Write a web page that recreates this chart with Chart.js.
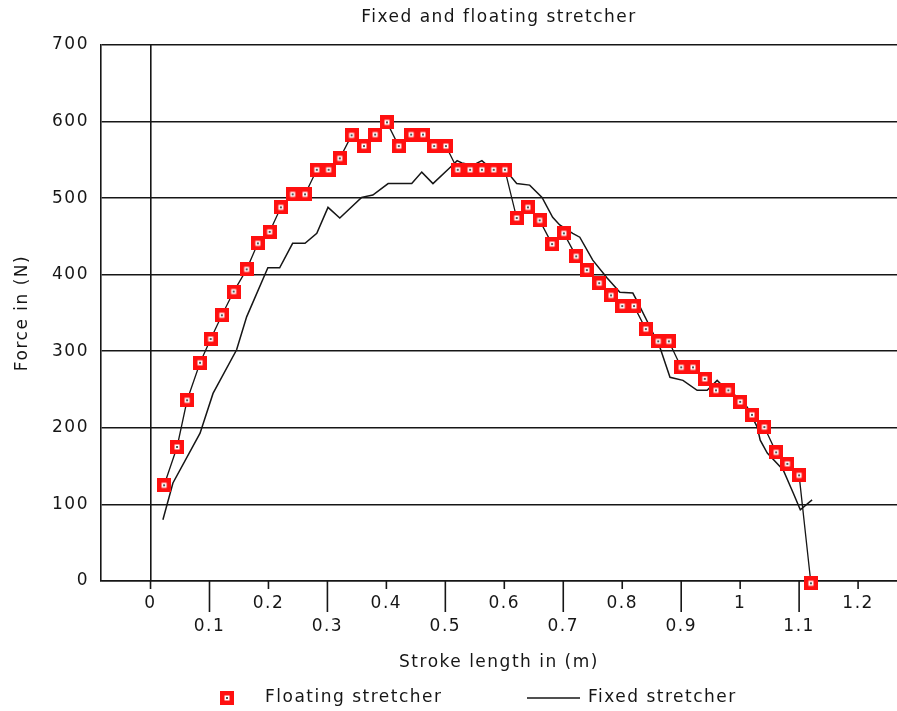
<!DOCTYPE html>
<html>
<head>
<meta charset="utf-8">
<title>Fixed and floating stretcher</title>
<script src="https://cdn.jsdelivr.net/npm/chart.js@4.4.1/dist/chart.umd.min.js"></script>
<style>
  html, body { margin: 0; padding: 0; background: #fff; }
  canvas { display: block; }
</style>
</head>
<body>
<canvas id="chart-stretcher" width="897" height="711"></canvas>
<script>
// stroke length (m) / force (N), floating stretcher
const floatingX = [0.023, 0.045, 0.062, 0.084, 0.102, 0.121, 0.141, 0.163, 0.182, 0.202,
  0.221, 0.241, 0.262, 0.282, 0.302, 0.321, 0.341, 0.362, 0.381, 0.401,
  0.421, 0.442, 0.462, 0.481, 0.501, 0.521, 0.542, 0.562, 0.582, 0.601,
  0.621, 0.640, 0.660, 0.681, 0.701, 0.722, 0.740, 0.761, 0.781, 0.800,
  0.820, 0.840, 0.861, 0.879, 0.900, 0.920, 0.940, 0.959, 0.980, 1.000,
  1.020, 1.041, 1.061, 1.080, 1.100, 1.120];
const floatingY = [125, 175, 236, 285, 316, 347, 378, 407, 441, 456,
  488, 505, 505, 537, 537, 552, 582, 568, 583, 599,
  568, 583, 583, 568, 568, 537, 537, 537, 537, 537,
  474, 488, 471, 440, 454, 424, 406, 389, 373, 359,
  359, 329, 313, 313, 279, 279, 264, 249, 249, 234,
  217, 201, 168, 153, 138, -3];

// fixed stretcher trace
const fixedX = [0.021, 0.038, 0.084, 0.106, 0.146, 0.163, 0.199, 0.219, 0.241, 0.262,
  0.282, 0.301, 0.321, 0.358, 0.377, 0.403, 0.443, 0.460, 0.479, 0.508,
  0.520, 0.528, 0.547, 0.562, 0.571, 0.605, 0.621, 0.643, 0.664, 0.682,
  0.694, 0.716, 0.728, 0.750, 0.774, 0.796, 0.818, 0.827, 0.847, 0.864,
  0.881, 0.903, 0.927, 0.944, 0.961, 0.969, 0.988, 1.012, 1.029, 1.034,
  1.046, 1.073, 1.090, 1.102, 1.122];
const fixedY = [80, 128, 193, 245, 302, 345, 409, 409, 441, 441,
  454, 488, 474, 501, 504, 519, 519, 534, 519, 540,
  549, 546, 543, 549, 543, 534, 519, 517, 501, 475,
  465, 454, 449, 419, 396, 377, 376, 363, 332, 305,
  266, 262, 249, 249, 262, 256, 245, 227, 201, 184,
  167, 145, 115, 93, 106];

const xTickValues = [0, 0.1, 0.2, 0.3, 0.4, 0.5, 0.6, 0.7, 0.8, 0.9, 1, 1.1, 1.2];
const xTickLabels = ['0', '0.1', '0.2', '0.3', '0.4', '0.5', '0.6', '0.7', '0.8', '0.9', '1', '1.1', '1.2'];

const ink = '#161616';

// red square marker with a white centre and a dot
function makeMarker() {
  const c = document.createElement('canvas');
  c.width = 14;
  c.height = 14;
  const g = c.getContext('2d');
  g.fillStyle = '#ff1010';
  g.fillRect(0, 0, 14, 14);
  g.fillStyle = '#ffffff';
  g.fillRect(4.5, 4.5, 5, 5);
  g.fillStyle = '#555555';
  g.fillRect(6, 6, 2, 2);
  return c;
}
const marker = makeMarker();

const spacedText = {
  id: 'spacedText',
  beforeDraw(chart) {
    chart.ctx.letterSpacing = '1.5px';
  }
};

// alternating short / long ticks under the x axis
const tickMarks = {
  id: 'tickMarks',
  afterDraw(chart) {
    const scale = chart.scales.x;
    const ctx = chart.ctx;
    ctx.save();
    ctx.strokeStyle = ink;
    ctx.lineWidth = 1.6;
    scale.ticks.forEach((t, i) => {
      const px = scale.getPixelForValue(t.value);
      const len = i % 2 ? 31 : 8;
      ctx.beginPath();
      ctx.moveTo(px, scale.top);
      ctx.lineTo(px, scale.top + len);
      ctx.stroke();
    });
    ctx.restore();
  }
};

const legendRow = {
  id: 'legendRow',
  afterDraw(chart) {
    const ctx = chart.ctx;
    const y = chart.height - 13;
    const [floating, fixed] = chart.data.datasets;
    ctx.save();
    ctx.letterSpacing = '1.5px';
    ctx.font = '17px "DejaVu Sans"';
    ctx.fillStyle = ink;
    ctx.textBaseline = 'middle';
    ctx.drawImage(floating.pointStyle, 227 - 7, y - 7);
    ctx.fillText(floating.label, 265, y);
    ctx.strokeStyle = ink;
    ctx.lineWidth = fixed.borderWidth;
    ctx.beginPath();
    ctx.moveTo(527, y);
    ctx.lineTo(580, y);
    ctx.stroke();
    ctx.fillText(fixed.label, 588, y);
    ctx.restore();
  }
};

Chart.defaults.font.family = '"DejaVu Sans", sans-serif';
Chart.defaults.font.size = 17;
Chart.defaults.color = ink;

const ctx = document.getElementById('chart-stretcher').getContext('2d');
const chart = new Chart(ctx, {
  type: 'line',
  data: {
    datasets: [
      {
        label: 'Floating stretcher',
        data: floatingX.map((x, i) => ({ x: x, y: floatingY[i] })),
        borderColor: ink,
        borderWidth: 1.3,
        pointStyle: marker,
        pointRadius: 6,
        clip: false
      },
      {
        label: 'Fixed stretcher',
        data: fixedX.map((x, i) => ({ x: x, y: fixedY[i] })),
        borderColor: ink,
        borderWidth: 1.5,
        pointRadius: 0
      }
    ]
  },
  options: {
    responsive: false,
    animation: false,
    layout: {
      autoPadding: false,
      padding: { left: 0, right: 0, top: 0, bottom: 34 }
    },
    scales: {
      x: {
        type: 'linear',
        min: -0.084,
        max: 1.266,
        afterBuildTicks: (scale) => {
          scale.ticks = xTickValues.map(v => ({ value: v }));
        },
        afterFit: (scale) => {
          scale.height = 96;
          scale.paddingLeft = 0;
          scale.paddingRight = 0;
        },
        grid: {
          color: (c) => (c.tick && c.tick.value === 0 ? ink : 'rgba(0,0,0,0)'),
          lineWidth: 1.6,
          drawTicks: false
        },
        border: { display: true, color: ink, width: 1.6 },
        ticks: {
          padding: 11,
          autoSkip: false,
          maxRotation: 0,
          font: { size: 17, lineHeight: 1.35 },
          callback: (value, index) => (index % 2 === 0 ? [xTickLabels[index], ''] : ['', xTickLabels[index]])
        },
        title: {
          display: true,
          text: 'Stroke length in (m)',
          padding: { top: 0, bottom: 4 },
          font: { size: 17 }
        }
      },
      y: {
        min: 0,
        max: 700,
        afterFit: (scale) => {
          scale.width = 101;
        },
        grid: { color: ink, lineWidth: 1.6, drawTicks: false },
        border: { color: ink, width: 1.6 },
        ticks: { stepSize: 100, padding: 12, font: { size: 17 } },
        title: {
          display: true,
          text: 'Force in (N)',
          padding: { top: 12, bottom: 0 },
          font: { size: 17 }
        }
      }
    },
    plugins: {
      legend: { display: false },
      tooltip: { enabled: false },
      title: {
        display: true,
        fullSize: false,
        text: 'Fixed and floating stretcher',
        color: ink,
        font: { size: 17, weight: 'normal' },
        padding: { top: 7, bottom: 17.6 }
      }
    }
  },
  plugins: [spacedText, tickMarks, legendRow]
});
</script>
</body>
</html>
